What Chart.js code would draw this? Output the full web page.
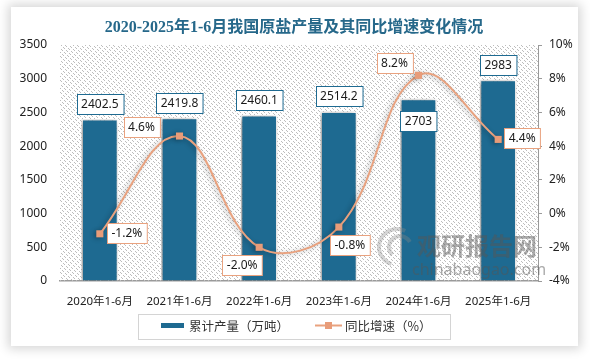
<!DOCTYPE html>
<html>
<head>
<meta charset="utf-8">
<script src="https://cdn.jsdelivr.net/npm/chart.js@4.4.1/dist/chart.umd.min.js"></script>
<style>
  html, body { margin: 0; padding: 0; background: #ffffff; width: 590px; height: 359px; overflow: hidden; }
  #card { position: absolute; left: 11px; top: 7px; width: 567px; height: 339px; background: #fff;
          box-shadow: 0 0 10px 3px rgba(0,0,0,0.16); }
  canvas { display: block; }
</style>
</head>
<body>
<div id="card"><canvas id="c" width="567" height="339"></canvas></div>
<script>
const titleText = '2020-2025年1-6月我国原盐产量及其同比增速变化情况';
const categories = ['2020年1-6月', '2021年1-6月', '2022年1-6月', '2023年1-6月', '2024年1-6月', '2025年1-6月'];
const output = [2402.5, 2419.8, 2460.1, 2514.2, 2703, 2983];
const growth = [-1.2, 4.6, -2.0, -0.8, 8.2, 4.4];
const seriesNames = ['累计产量（万吨）', '同比增速（%）'];
const leftTicks = [0, 500, 1000, 1500, 2000, 2500, 3000, 3500];
const rightTicks = [-4, -2, 0, 2, 4, 6, 8, 10];

const BAR = '#1e6a91';
const LINE = '#e9a27f';
const MARK = '#e89c79';
const FONT = '"Noto Sans", "Noto Sans CJK SC", sans-serif';

// label placement (box centre offsets relative to the point, in px)
const lineLabelOffsets = [[27, -1], [-38, -9], [-17, 18], [11, 18], [-24, -12], [24, -1]];
const barLabelOffsets = [-15, -15, -15, -15, 22, -15];

function drawBox(ctx, cx, cy, text, border) {
  ctx.font = '12px ' + FONT;
  const w = ctx.measureText(text).width + 9;
  const h = 20;
  const x = Math.round(cx - w / 2) + 0.5, y = Math.round(cy - h / 2) + 0.5;
  ctx.fillStyle = '#fff';
  ctx.fillRect(x, y, w, h);
  ctx.strokeStyle = border;
  ctx.lineWidth = 1;
  ctx.strokeRect(x, y, w, h);
  ctx.fillStyle = '#1a1a1a';
  ctx.textAlign = 'center';
  ctx.textBaseline = 'middle';
  ctx.fillText(text, cx, cy + 0.5);
}

function drawHatch(ctx, a) {
  const L = Math.floor(a.left), T = Math.floor(a.top), R = Math.ceil(a.right), B = Math.ceil(a.bottom);
  ctx.save();
  ctx.fillStyle = '#bdbdbd';
  for (let y = T; y < B; y++) {
    for (let x = L; x < R; x++) {
      const k = ((x - y) % 4 + 4) % 4;
      if (k === 0 && ((x + y) % 3 !== 0)) ctx.fillRect(x, y, 1, 1);
    }
  }
  ctx.restore();
}

const custom = {
  id: 'custom',
  beforeDatasetsDraw(chart) {
    drawHatch(chart.ctx, chart.chartArea);
  },
  beforeDatasetDraw(chart, args) {
    const ctx = chart.ctx;
    ctx.save();
    if (args.index === 0) {
      ctx.shadowColor = 'rgba(0,0,0,0.45)';
      ctx.shadowBlur = 6;
      ctx.shadowOffsetX = -2;
      ctx.shadowOffsetY = 1;
    } else {
      ctx.shadowColor = 'rgba(0,0,0,0.3)';
      ctx.shadowBlur = 5;
      ctx.shadowOffsetX = -2;
      ctx.shadowOffsetY = 1;
    }
  },
  afterDatasetDraw(chart) {
    chart.ctx.restore();
  },
  afterDatasetsDraw(chart) {
    const { ctx } = chart;
    ctx.save();
    // watermark
    ctx.globalAlpha = 0.35;
    ctx.strokeStyle = '#888';
    ctx.lineWidth = 4;
    ctx.beginPath(); ctx.arc(386, 240, 18, Math.PI * 0.6, Math.PI * 1.65); ctx.stroke();
    ctx.beginPath(); ctx.arc(389, 240, 11, Math.PI * 0.75, Math.PI * 1.85); ctx.stroke();
    ctx.globalAlpha = 0.5;
    ctx.fillStyle = '#555';
    ctx.textAlign = 'left';
    ctx.textBaseline = 'middle';
    ctx.font = 'bold 24px "Noto Sans CJK SC", sans-serif';
    ctx.fillText('观研报告网', 406, 239);
    ctx.font = '16px "Noto Sans", sans-serif';
    ctx.fillText('chinabaogao.com', 401, 263);
    ctx.globalAlpha = 1;
    ctx.restore();

    ctx.save();
    const barMeta = chart.getDatasetMeta(0);
    barMeta.data.forEach((el, i) => {
      drawBox(ctx, el.x, el.y + barLabelOffsets[i], String(output[i]), BAR);
    });
    const lineMeta = chart.getDatasetMeta(1);
    lineMeta.data.forEach((el, i) => {
      const o = lineLabelOffsets[i];
      drawBox(ctx, el.x + o[0], el.y + o[1], growth[i].toFixed(1) + '%', LINE);
    });
    ctx.restore();
  },
  afterDraw(chart) {
    const { ctx } = chart;
    ctx.save();
    // title
    ctx.fillStyle = '#26688a';
    ctx.font = 'bold 16px "Liberation Serif", "Noto Sans CJK SC", serif';
    ctx.textAlign = 'center';
    ctx.textBaseline = 'middle';
    ctx.fillText(titleText, 283, 21);
    // legend
    ctx.strokeStyle = '#d4d4d4';
    ctx.lineWidth = 1;
    ctx.strokeRect(127.5, 307.5, 312, 25);
    ctx.fillStyle = BAR;
    ctx.fillRect(150, 316, 23, 5);
    ctx.fillStyle = '#333';
    ctx.font = '12.5px "Noto Sans CJK SC", sans-serif';
    ctx.textAlign = 'left';
    ctx.fillText(seriesNames[0], 178, 319);
    ctx.strokeStyle = LINE;
    ctx.lineWidth = 2;
    ctx.beginPath(); ctx.moveTo(304, 318.5); ctx.lineTo(331, 318.5); ctx.stroke();
    ctx.fillStyle = MARK;
    ctx.fillRect(314, 315, 7, 7);
    ctx.fillStyle = '#333';
    ctx.fillText(seriesNames[1], 334, 319);
    ctx.restore();
  }
};

new Chart(document.getElementById('c'), {
  data: {
    labels: categories,
    datasets: [
      {
        type: 'bar', label: seriesNames[0], data: output, yAxisID: 'y',
        backgroundColor: BAR, borderColor: '#ffffff', borderWidth: 1.5,
        barPercentage: 0.46, categoryPercentage: 1.0, order: 2
      },
      {
        type: 'line', label: seriesNames[1], data: growth, yAxisID: 'y1',
        borderColor: LINE, borderWidth: 2, tension: 0.4,
        pointStyle: 'rect', pointRadius: 5, pointBackgroundColor: MARK, pointBorderColor: MARK,
        pointBorderWidth: 0, order: 1
      }
    ]
  },
  options: {
    responsive: false,
    animation: false,
    devicePixelRatio: 1,
    layout: { padding: { top: 38, bottom: 35, left: 0, right: 0 } },
    plugins: { legend: { display: false }, title: { display: false }, tooltip: { enabled: false } },
    scales: {
      x: {
        offset: true,
        grid: { display: false },
        border: { display: true, color: '#9a9a9a', width: 1.5 },
        ticks: { color: '#222', font: { size: 11.5, family: FONT }, padding: 6, maxRotation: 0 },
        afterFit(s) { s.height = 30; }
      },
      y: {
        position: 'left', min: 0, max: 3500,
        afterBuildTicks(s) { s.ticks = leftTicks.map(v => ({ value: v })); },
        grid: { display: true, drawOnChartArea: false, drawTicks: false, color: 'rgba(0,0,0,0)' },
        border: { display: false },
        ticks: { color: '#222', font: { size: 12, family: FONT }, padding: 13, callback: v => String(v) },
        afterFit(s) { s.width = 49; }
      },
      y1: {
        position: 'right', min: -4, max: 10,
        afterBuildTicks(s) { s.ticks = rightTicks.map(v => ({ value: v })); },
        grid: { display: true, drawOnChartArea: false, drawTicks: true, tickLength: 4, color: '#9a9a9a' },
        border: { display: true, color: '#9a9a9a', width: 1 },
        ticks: { color: '#222', font: { size: 12, family: FONT }, padding: 7, callback: v => v + '%' },
        afterFit(s) { s.width = 40; }
      }
    }
  },
  plugins: [custom]
});
</script>
</body>
</html>
